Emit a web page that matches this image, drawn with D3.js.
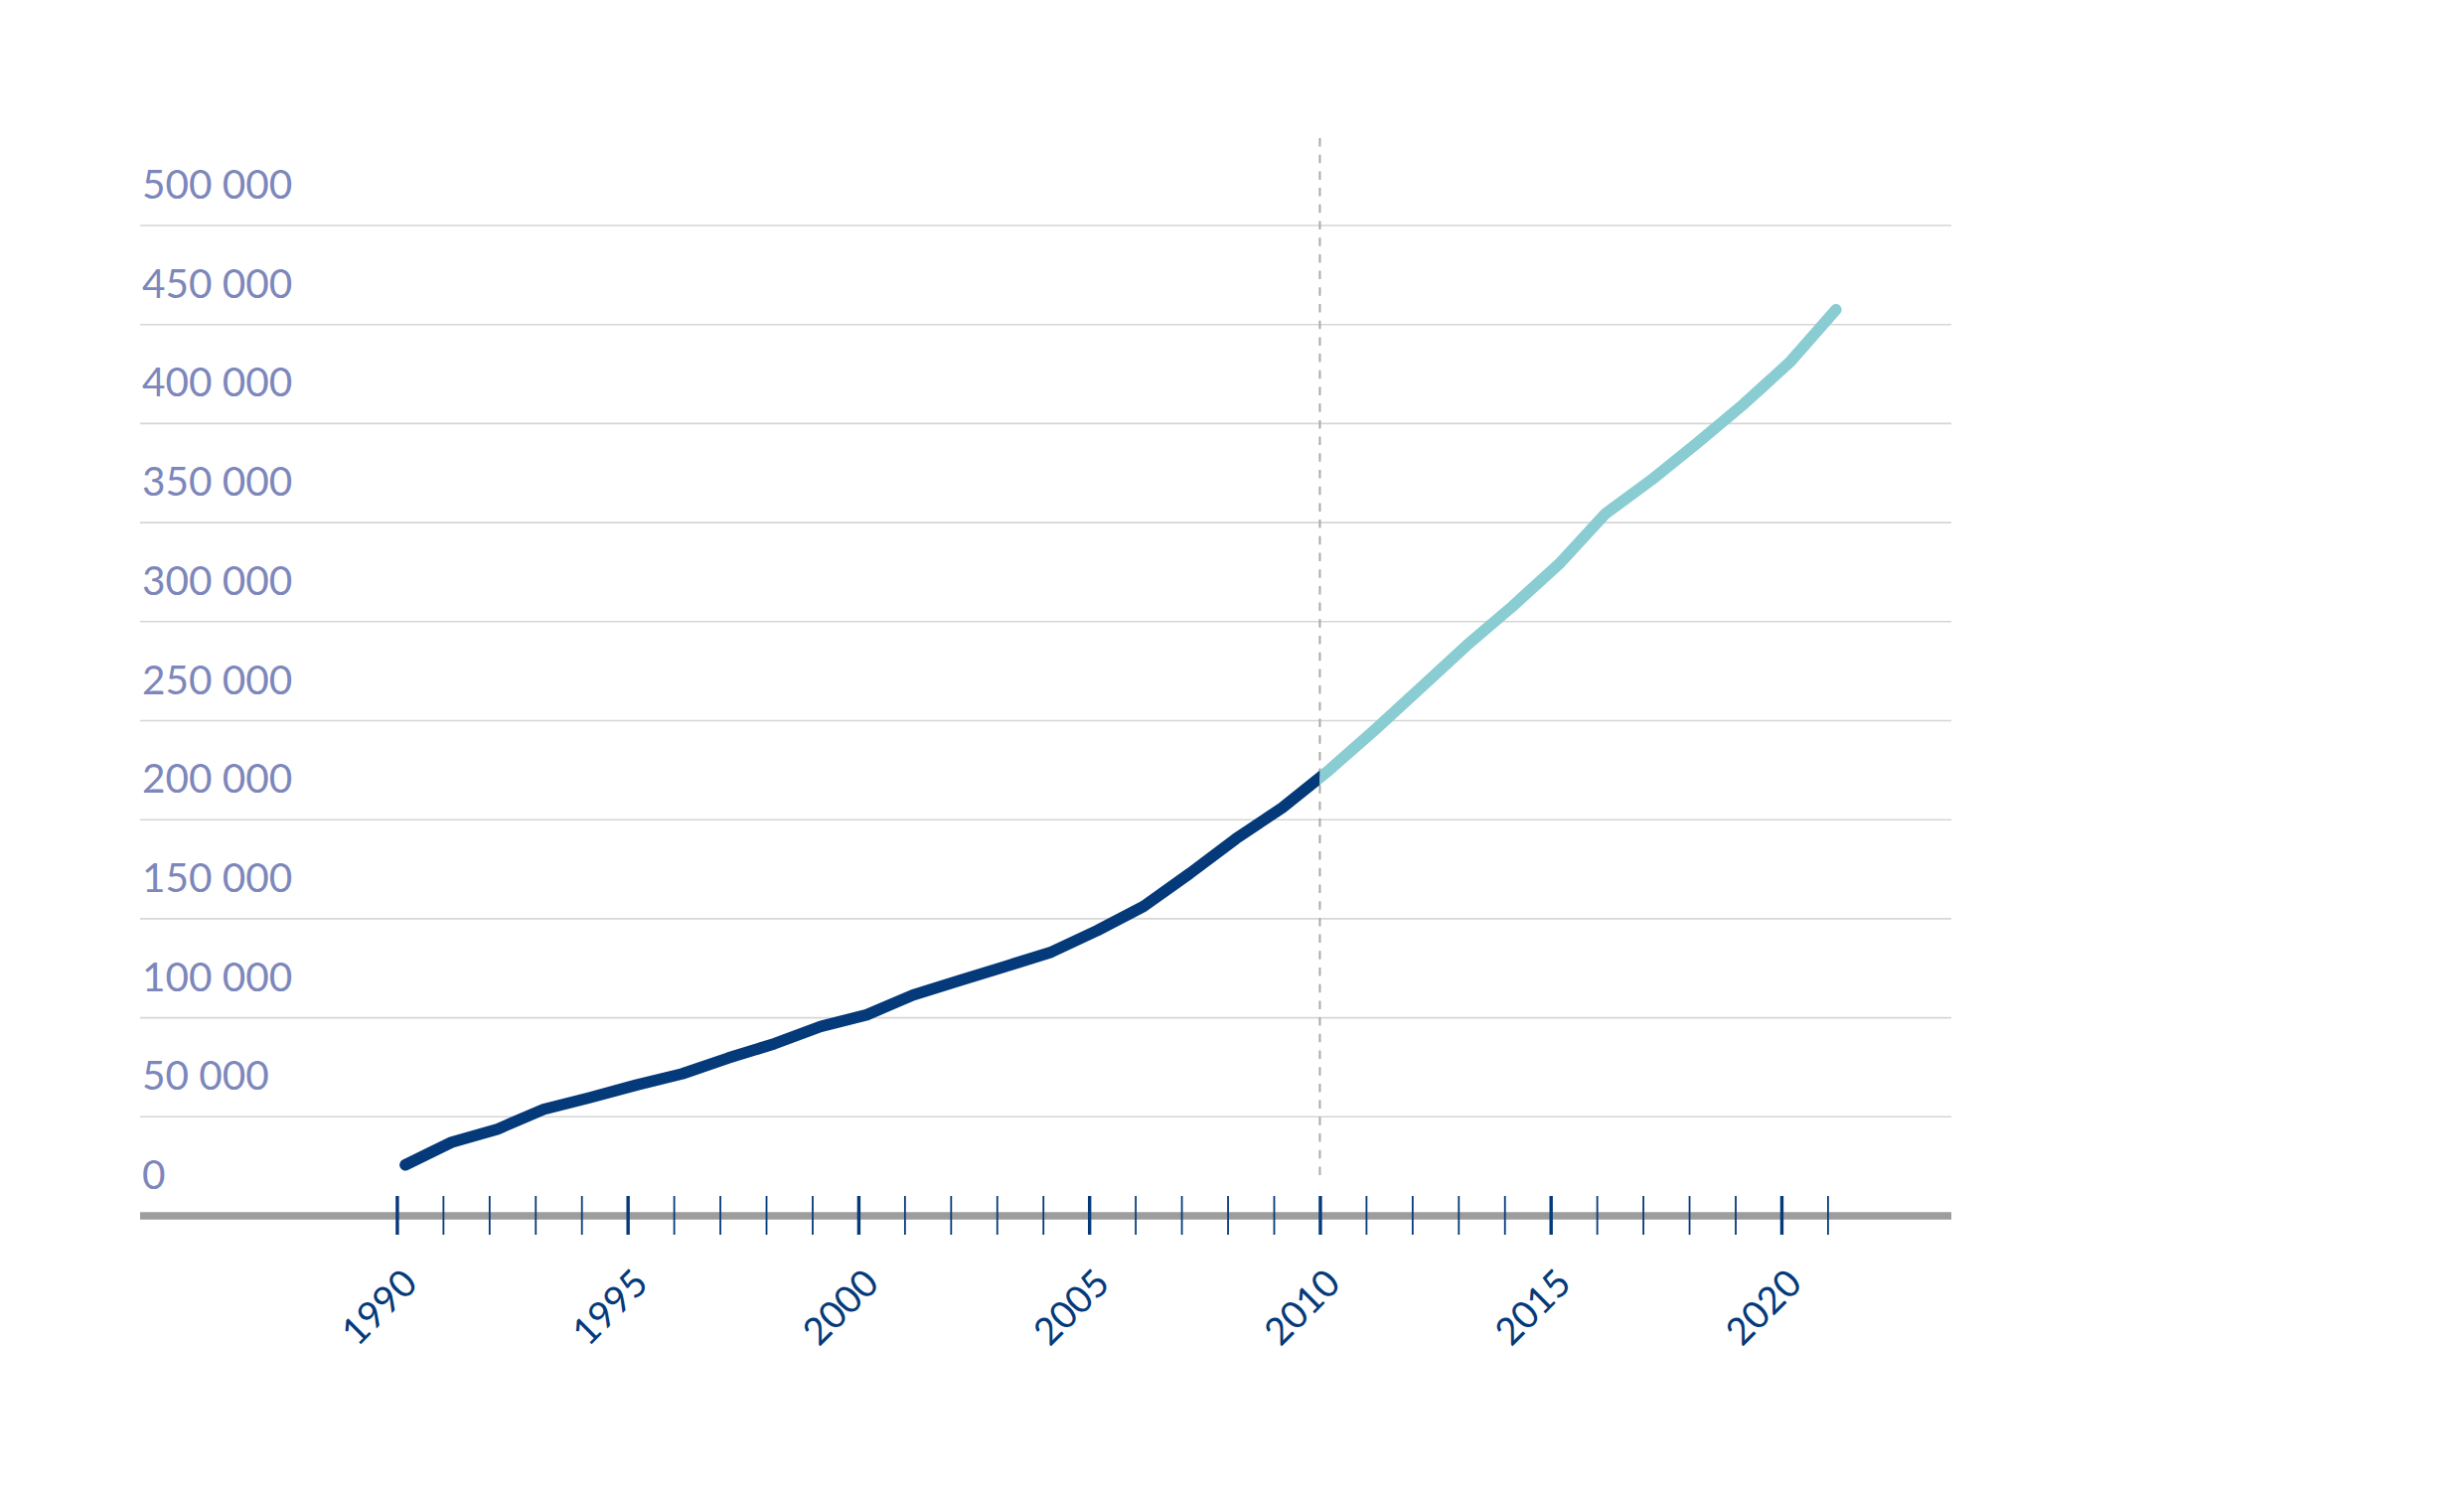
<!DOCTYPE html>
<html>
<head>
<meta charset="utf-8">
<script src="https://cdn.jsdelivr.net/npm/d3@7"></script>
<style>
  html, body { margin: 0; padding: 0; background: #ffffff; }
  svg { display: block; }
</style>
</head>
<body>
<svg id="chart" width="2480" height="1500"></svg>
<script>
// ---------- DATA ----------
const years = [1990,1991,1992,1993,1994,1995,1996,1997,1998,1999,
               2000,2001,2002,2003,2004,2005,2006,2007,2008,2009,
               2010,2011,2012,2013,2014,2015,2016,2017,2018,2019,2020,2021];
const values = [25700,37100,43800,53800,59700,66000,71700,79700,86900,95600,
                101500,111500,118700,125900,133200,144100,156300,172900,190400,206000,
                224700,245200,266600,288000,307900,329100,354400,371500,390300,409800,431000,457500];
const splitYear = 2010;           // colour change / dashed marker
const yTickValues = [0,50000,100000,150000,200000,250000,300000,350000,400000,450000,500000];
const xTickValues = d3.range(1990, 2022);
const xLabelValues = [1990,1995,2000,2005,2010,2015,2020];

// ---------- LAYOUT / STYLE ----------
const W = 2480, H = 1500;
const plotLeft = 141, plotRight = 1964;
const baseY = 1224, topY = 227;
const pointShift = 8.5;  // data points sit slightly right of the year ticks
const navy = "#053a7a", teal = "#89cdd3";
const labelColor = "#7d87bb";
const fontFam = "Lato, 'Open Sans', sans-serif";

const svg = d3.select("#chart");
svg.append("rect").attr("width", W).attr("height", H).attr("fill", "#fff");

const x = d3.scaleLinear().domain([1990, 2021]).range([399.4, 1839.4]);
const y = d3.scaleLinear().domain([0, 500000]).range([baseY, topY]);

const loc = d3.formatLocale({decimal: ",", thousands: " ", grouping: [3], currency: ["", ""]});
const fmt = loc.format(",d");

// gridlines
svg.append("g").selectAll("line")
  .data(yTickValues.filter(d => d > 0))
  .join("line")
  .attr("x1", plotLeft).attr("x2", plotRight)
  .attr("y1", d => y(d)).attr("y2", d => y(d))
  .attr("stroke", "#d6d6d6").attr("stroke-width", 1.6);

// y labels
svg.append("g").selectAll("text")
  .data(yTickValues)
  .join("text")
  .attr("x", 143)
  .attr("y", d => y(d) - 27)
  .attr("fill", labelColor)
  .attr("font-family", fontFam)
  .attr("font-size", 40.5)
  .text(d => fmt(d));

// dashed marker
svg.append("line")
  .attr("x1", x(splitYear)).attr("x2", x(splitYear))
  .attr("y1", 139).attr("y2", 1188)
  .attr("stroke", "#a9a9a9").attr("stroke-width", 2)
  .attr("stroke-dasharray", "8.5 8.2");

// axis line
svg.append("line")
  .attr("x1", plotLeft).attr("x2", plotRight)
  .attr("y1", baseY).attr("y2", baseY)
  .attr("stroke", "#9d9d9d").attr("stroke-width", 7.5);

// ticks
const tickAxis = d3.axisBottom(x).tickValues(xTickValues).tickSize(39).tickFormat("");
const tg = svg.append("g").attr("transform", `translate(0,${baseY - 20})`).call(tickAxis);
tg.select(".domain").remove();
tg.selectAll(".tick line")
  .attr("stroke", navy)
  .attr("stroke-width", d => d % 5 === 0 ? 3.4 : 1.8);

// x labels
svg.append("g").selectAll("text")
  .data(xLabelValues)
  .join("text")
  .attr("transform", d => `translate(${x(d) - 18},${1316}) rotate(-45)`)
  .attr("text-anchor", "middle")
  .attr("dy", "0.35em")
  .attr("fill", navy)
  .attr("font-family", fontFam)
  .attr("font-size", 38)
  .text(d => d);

// line, split by clip paths at splitYear
const pts = years.map((yr, i) => ({yr, v: values[i]}));
const lineGen = d3.line().x(d => x(d.yr) + pointShift).y(d => y(d.v));
const defs = svg.append("defs");
defs.append("clipPath").attr("id", "clipL")
  .append("rect").attr("x", 0).attr("y", 0).attr("width", x(splitYear)).attr("height", H);
defs.append("clipPath").attr("id", "clipR")
  .append("rect").attr("x", x(splitYear)).attr("y", 0).attr("width", W - x(splitYear)).attr("height", H);

svg.append("path").datum(pts)
  .attr("d", lineGen)
  .attr("fill", "none").attr("stroke", navy).attr("stroke-width", 11.5)
  .attr("stroke-linejoin", "round").attr("stroke-linecap", "round")
  .attr("clip-path", "url(#clipL)");
svg.append("path").datum(pts)
  .attr("d", lineGen)
  .attr("fill", "none").attr("stroke", teal).attr("stroke-width", 11.5)
  .attr("stroke-linejoin", "round").attr("stroke-linecap", "round")
  .attr("clip-path", "url(#clipR)");
</script>
</body>
</html>
